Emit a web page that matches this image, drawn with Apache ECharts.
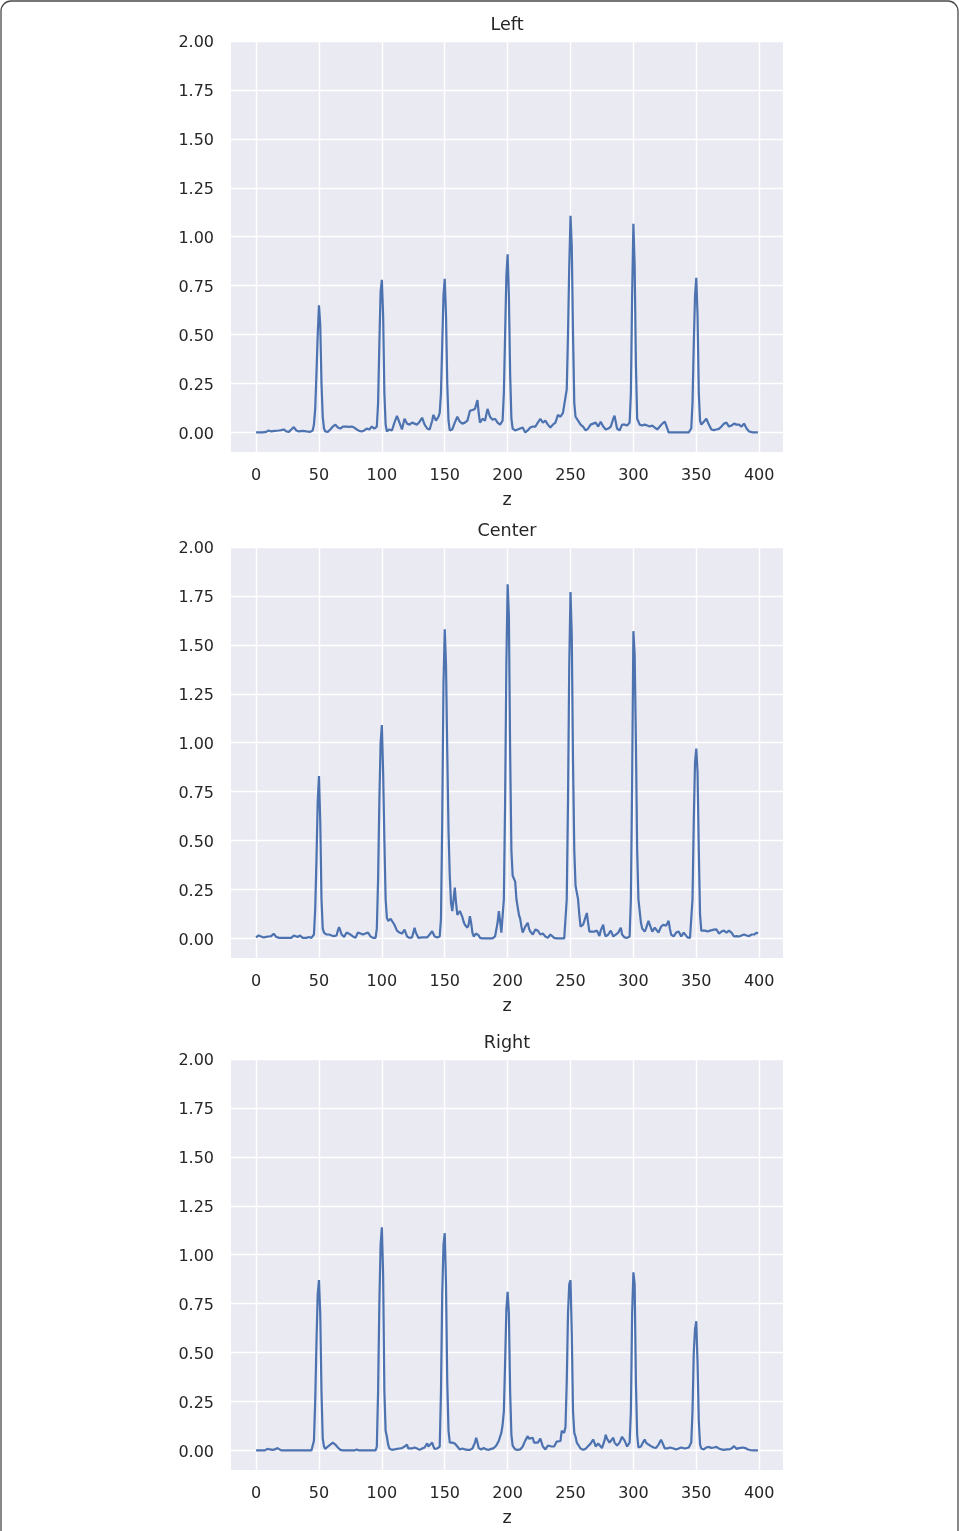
<!DOCTYPE html>
<html>
<head>
<meta charset="utf-8">
<script src="https://cdn.jsdelivr.net/npm/echarts@6/dist/echarts.min.js"></script>
<style>
html,body{margin:0;padding:0;background:#fff;}
#chart{width:959px;height:1531px;}
</style>
</head>
<body>
<div id="chart"></div>
<script>
const panelTitles = ['Left', 'Center', 'Right'];
const xTicks = [0, 50, 100, 150, 200, 250, 300, 350, 400];
const yTicks = [0, 0.25, 0.5, 0.75, 1.0, 1.25, 1.5, 1.75, 2.0];

const leftPoints = [[0,0],[5,0],[8,0.003],[10,0.01],[12,0.005],[15,0.008],[18,0.01],[20,0.012],[22,0.015],[24,0.005],[26,0.003],[28,0.015],[30,0.027],[32,0.01],[34,0.005],[37,0.008],[40,0.005],[43,0.003],[45,0.01],[46,0.04],[47,0.12],[48,0.3],[49,0.5],[50,0.65],[51,0.55],[52,0.25],[53,0.08],[54,0.02],[55,0.005],[57,0.003],[59,0.015],[61,0.03],[63,0.04],[65,0.025],[67,0.02],[69,0.03],[70,0.02],[72,0.03],[74,0.028],[76,0.03],[78,0.025],[80,0.015],[82,0.008],[84,0.005],[86,0.01],[88,0.02],[90,0.015],[92,0.03],[94,0.02],[95,0.01],[96,0.03],[97,0.15],[98,0.45],[99,0.72],[100,0.78],[101,0.6],[102,0.2],[103,0.04],[104,0.005],[106,0.015],[108,0.01],[110,0.05],[112,0.085],[114,0.05],[116,0.015],[118,0.07],[120,0.045],[122,0.04],[124,0.05],[126,0.045],[128,0.04],[130,0.055],[132,0.075],[134,0.04],[136,0.02],[138,0.015],[140,0.06],[141,0.09],[143,0.06],[145,0.08],[146,0.1],[147,0.2],[148,0.45],[149,0.7],[150,0.785],[151,0.6],[152,0.25],[153,0.06],[154,0.01],[156,0.015],[158,0.05],[160,0.08],[162,0.055],[164,0.045],[166,0.05],[168,0.06],[170,0.11],[172,0.115],[174,0.12],[176,0.165],[177,0.1],[178,0.05],[180,0.07],[182,0.06],[184,0.12],[186,0.08],[188,0.065],[190,0.07],[192,0.05],[194,0.04],[195,0.05],[196,0.06],[197,0.2],[198,0.5],[199,0.8],[200,0.91],[201,0.7],[202,0.3],[203,0.07],[204,0.02],[206,0.01],[208,0.015],[210,0.02],[212,0.025],[214,0.0],[216,0.01],[218,0.025],[220,0.03],[222,0.03],[224,0.05],[226,0.07],[228,0.05],[230,0.06],[232,0.04],[234,0.025],[236,0.04],[238,0.05],[240,0.09],[242,0.08],[244,0.1],[245,0.14],[246,0.15],[247,0.22],[248,0.5],[249,0.85],[250,1.107],[251,0.95],[252,0.5],[253,0.15],[254,0.08],[256,0.06],[258,0.04],[260,0.03],[262,0.01],[264,0.02],[266,0.04],[268,0.045],[270,0.05],[272,0.03],[274,0.055],[276,0.03],[278,0.015],[280,0.02],[282,0.03],[284,0.07],[285,0.085],[287,0.02],[289,0.01],[291,0.04],[293,0.04],[295,0.035],[297,0.05],[298,0.2],[299,0.7],[300,1.066],[301,0.85],[302,0.35],[303,0.07],[305,0.04],[307,0.035],[309,0.04],[311,0.035],[313,0.03],[315,0.035],[317,0.025],[319,0.015],[321,0.03],[323,0.045],[325,0.055],[327,0.02],[328,0],[335,0],[344,0],[345,0.01],[346,0.02],[347,0.15],[348,0.45],[349,0.7],[350,0.79],[351,0.6],[352,0.2],[353,0.06],[354,0.04],[356,0.055],[358,0.07],[360,0.04],[362,0.015],[364,0.012],[366,0.015],[368,0.018],[370,0.03],[372,0.045],[374,0.05],[376,0.03],[378,0.035],[380,0.045],[382,0.04],[384,0.04],[386,0.03],[388,0.045],[390,0.02],[392,0.005],[395,0],[399,0]];

const centerPoints = [[0,0.005],[2,0.015],[4,0.01],[6,0.005],[8,0.008],[10,0.01],[12,0.012],[14,0.024],[16,0.008],[18,0.003],[22,0.003],[28,0.003],[30,0.015],[31,0.017],[33,0.007],[35,0.015],[37,0.003],[40,0.003],[42,0.007],[44,0.003],[46,0.02],[47,0.15],[48,0.4],[49,0.7],[50,0.83],[51,0.6],[52,0.2],[53,0.05],[54,0.03],[56,0.02],[58,0.02],[60,0.015],[62,0.012],[64,0.015],[65,0.04],[66,0.058],[68,0.02],[70,0.008],[72,0.03],[73,0.032],[75,0.02],[77,0.01],[79,0.003],[81,0.03],[83,0.025],[85,0.02],[87,0.025],[89,0.03],[91,0.01],[93,0.003],[95,0.003],[96,0.05],[97,0.3],[98,0.7],[99,1.0],[100,1.09],[101,0.85],[102,0.5],[103,0.2],[104,0.105],[105,0.09],[106,0.088],[107,0.1],[108,0.1],[110,0.07],[112,0.04],[114,0.03],[116,0.025],[118,0.045],[120,0.01],[122,0.003],[124,0.005],[126,0.054],[127,0.03],[129,0.003],[132,0.005],[136,0.005],[138,0.02],[140,0.037],[142,0.01],[144,0.005],[146,0.01],[147,0.1],[148,0.6],[149,1.3],[150,1.58],[151,1.4],[152,0.95],[153,0.55],[154,0.32],[155,0.18],[156,0.14],[157,0.2],[158,0.26],[159,0.18],[160,0.12],[161,0.115],[162,0.14],[163,0.14],[164,0.11],[165,0.085],[166,0.07],[167,0.06],[168,0.055],[169,0.07],[170,0.114],[171,0.08],[172,0.03],[173,0.01],[174,0.015],[175,0.025],[176,0.03],[177,0.015],[178,0.003],[180,0],[188,0],[190,0.01],[191,0.02],[192,0.08],[193,0.14],[194,0.09],[195,0.03],[196,0.04],[197,0.2],[198,0.7],[199,1.4],[200,1.81],[201,1.65],[202,0.95],[203,0.45],[204,0.32],[205,0.31],[206,0.29],[207,0.2],[208,0.16],[209,0.12],[210,0.1],[211,0.06],[212,0.03],[214,0.06],[216,0.08],[217,0.05],[218,0.035],[220,0.02],[222,0.045],[223,0.054],[224,0.04],[226,0.02],[228,0.025],[230,0.01],[232,0.003],[234,0.02],[235,0.015],[237,0.003],[239,0],[245,0],[246,0.01],[247,0.2],[248,0.7],[249,1.4],[250,1.77],[251,1.55],[252,0.9],[253,0.45],[254,0.27],[255,0.26],[256,0.2],[257,0.12],[258,0.06],[259,0.055],[260,0.07],[261,0.09],[262,0.11],[263,0.13],[264,0.08],[265,0.035],[267,0.035],[269,0.035],[271,0.04],[273,0.012],[274,0.04],[276,0.07],[277,0.03],[278,0.01],[280,0.02],[282,0.04],[284,0.01],[286,0.02],[288,0.03],[290,0.055],[291,0.02],[293,0.005],[295,0.003],[297,0.01],[298,0.2],[299,0.8],[300,1.57],[301,1.45],[302,1.0],[303,0.45],[304,0.2],[305,0.14],[306,0.08],[307,0.05],[308,0.04],[309,0.035],[310,0.05],[312,0.09],[313,0.07],[315,0.035],[317,0.055],[318,0.06],[320,0.03],[322,0.06],[324,0.07],[326,0.065],[328,0.09],[329,0.05],[330,0.02],[332,0.01],[334,0.03],[336,0.035],[338,0.01],[340,0.03],[341,0.03],[343,0.005],[345,0.003],[346,0.01],[347,0.2],[348,0.6],[349,0.9],[350,0.97],[351,0.85],[352,0.45],[353,0.12],[354,0.04],[355,0.04],[357,0.04],[359,0.035],[361,0.04],[362,0.045],[364,0.045],[366,0.046],[368,0.025],[370,0.035],[372,0.04],[374,0.03],[376,0.04],[378,0.03],[380,0.01],[382,0.012],[384,0.01],[386,0.015],[388,0.02],[390,0.015],[392,0.012],[394,0.02],[395,0.03],[396,0.02],[398,0.03],[399,0.025]];

const rightPoints = [[0,0],[7,0],[9,0.008],[11,0.005],[13,0.003],[15,0.005],[17,0.012],[18,0.01],[20,0],[30,0],[44,0],[45,0.01],[46,0.05],[47,0.25],[48,0.55],[49,0.8],[50,0.87],[51,0.7],[52,0.3],[53,0.06],[54,0.02],[55,0.008],[57,0.02],[59,0.03],[61,0.04],[63,0.03],[65,0.015],[67,0.003],[69,0],[78,0],[80,0.005],[82,0],[95,0],[96,0.02],[97,0.3],[98,0.75],[99,1.05],[100,1.14],[101,0.9],[102,0.3],[103,0.1],[104,0.07],[105,0.03],[106,0.01],[108,0.003],[110,0.005],[112,0.008],[114,0.01],[116,0.012],[118,0.02],[120,0.03],[121,0.01],[122,0.005],[124,0.01],[126,0.015],[128,0.01],[130,0.003],[132,0.01],[134,0.015],[136,0.036],[137,0.02],[138,0.015],[140,0.04],[141,0.02],[142,0.008],[144,0.01],[146,0.02],[147,0.3],[148,0.8],[149,1.05],[150,1.11],[151,0.85],[152,0.35],[153,0.1],[154,0.04],[155,0.05],[156,0.04],[157,0.03],[158,0.035],[159,0.04],[160,0.02],[162,0.005],[164,0.01],[166,0.005],[168,0.003],[170,0.003],[172,0.01],[174,0.04],[175,0.065],[176,0.04],[177,0.012],[179,0.005],[181,0.012],[183,0.005],[185,0.003],[187,0.008],[189,0.012],[191,0.025],[193,0.05],[195,0.09],[196,0.13],[197,0.2],[198,0.45],[199,0.72],[200,0.81],[201,0.7],[202,0.3],[203,0.08],[204,0.025],[206,0.005],[208,0.003],[210,0.005],[212,0.02],[214,0.05],[216,0.073],[217,0.06],[218,0.056],[220,0.065],[221,0.04],[222,0.03],[224,0.04],[226,0.06],[227,0.04],[228,0.02],[230,0.005],[232,0.025],[233,0.03],[235,0.02],[237,0.02],[239,0.045],[240,0.048],[242,0.048],[243,0.1],[244,0.1],[245,0.09],[246,0.12],[247,0.35],[248,0.7],[249,0.85],[250,0.87],[251,0.6],[252,0.2],[253,0.09],[254,0.07],[255,0.04],[256,0.03],[258,0.01],[260,0.003],[262,0.008],[264,0.022],[266,0.035],[268,0.056],[269,0.04],[270,0.02],[272,0.035],[273,0.04],[275,0.012],[277,0.05],[278,0.08],[279,0.06],[281,0.04],[282,0.05],[284,0.065],[285,0.04],[287,0.025],[289,0.04],[291,0.07],[292,0.08],[293,0.05],[295,0.02],[297,0.04],[298,0.2],[299,0.7],[300,0.91],[301,0.85],[302,0.35],[303,0.08],[304,0.015],[306,0.02],[308,0.045],[309,0.056],[310,0.04],[312,0.03],[314,0.022],[316,0.015],[318,0.013],[320,0.03],[322,0.055],[323,0.05],[325,0.01],[327,0.01],[329,0.015],[330,0.018],[332,0.01],[334,0.005],[336,0.01],[338,0.015],[339,0.022],[341,0.01],[342,0.005],[344,0.015],[346,0.04],[347,0.2],[348,0.5],[349,0.62],[350,0.66],[351,0.45],[352,0.15],[353,0.03],[354,0.01],[356,0.005],[358,0.015],[360,0.018],[362,0.013],[364,0.015],[366,0.018],[368,0.01],[370,0.005],[372,0.003],[374,0.005],[376,0.005],[378,0.01],[380,0.022],[382,0.008],[384,0.012],[385,0.018],[387,0.015],[389,0.012],[391,0.005],[393,0.002],[396,0],[399,0]];

const panelData = [leftPoints, centerPoints, rightPoints];
const gridTops = [41, 547, 1059];
const FONT = '"DejaVu Sans", sans-serif';
const TXT = '#262626';

const chart = echarts.init(document.getElementById('chart'), null, {renderer: 'canvas'});

const grids = [], xAxes = [], yAxes = [], series = [], graphics = [];
gridTops.forEach((top, i) => {
  grids.push({left: 231, top: top, width: 552, height: 411, show: true,
    backgroundColor: '#EAEAF2', borderWidth: 0, containLabel: false});
  xAxes.push({
    type: 'value', gridIndex: i, min: -19.95, max: 418.95,
    axisLine: {show: false},
    axisTick: {show: false, customValues: xTicks},
    axisLabel: {customValues: xTicks, fontSize: 16, color: TXT, fontFamily: FONT, margin: 16},
    splitLine: {show: true, lineStyle: {color: '#ffffff', width: 1.4}},
    name: 'z', nameLocation: 'middle', nameGap: 39,
    nameTextStyle: {fontSize: 17.6, color: TXT, fontFamily: FONT}
  });
  yAxes.push({
    type: 'value', gridIndex: i, min: -0.1, max: 2.0,
    axisLine: {show: false},
    axisTick: {show: false, customValues: yTicks},
    axisLabel: {customValues: yTicks, fontSize: 16, color: TXT, fontFamily: FONT, margin: 17,
      formatter: v => '{v|' + v.toFixed(2) + '}',
      rich: {v: {fontSize: 16, color: TXT, fontFamily: FONT, padding: [4, 0, 0, 0]}}},
    splitLine: {show: true, lineStyle: {color: '#ffffff', width: 1.4}}
  });
  series.push({
    type: 'line', xAxisIndex: i, yAxisIndex: i, data: panelData[i],
    showSymbol: false, symbol: 'none', smooth: false, animation: false,
    lineStyle: {color: '#4C72B0', width: 2.2}, itemStyle: {color: '#4C72B0'}, z: 3
  });
  graphics.push({
    type: 'text', x: 507, y: top - 16,
    style: {text: panelTitles[i], fill: TXT, font: '17.6px ' + FONT,
      textAlign: 'center', textVerticalAlign: 'middle'}
  });
});

graphics.push({
  type: 'rect', z: -10, silent: true,
  shape: {x: 1, y: 1, width: 957, height: 1580, r: 10},
  style: {fill: 'none', stroke: '#4a4a4a', lineWidth: 1.3}
});

chart.setOption({
  animation: false,
  backgroundColor: '#ffffff',
  grid: grids, xAxis: xAxes, yAxis: yAxes, series: series,
  graphic: graphics
});
</script>
</body>
</html>
